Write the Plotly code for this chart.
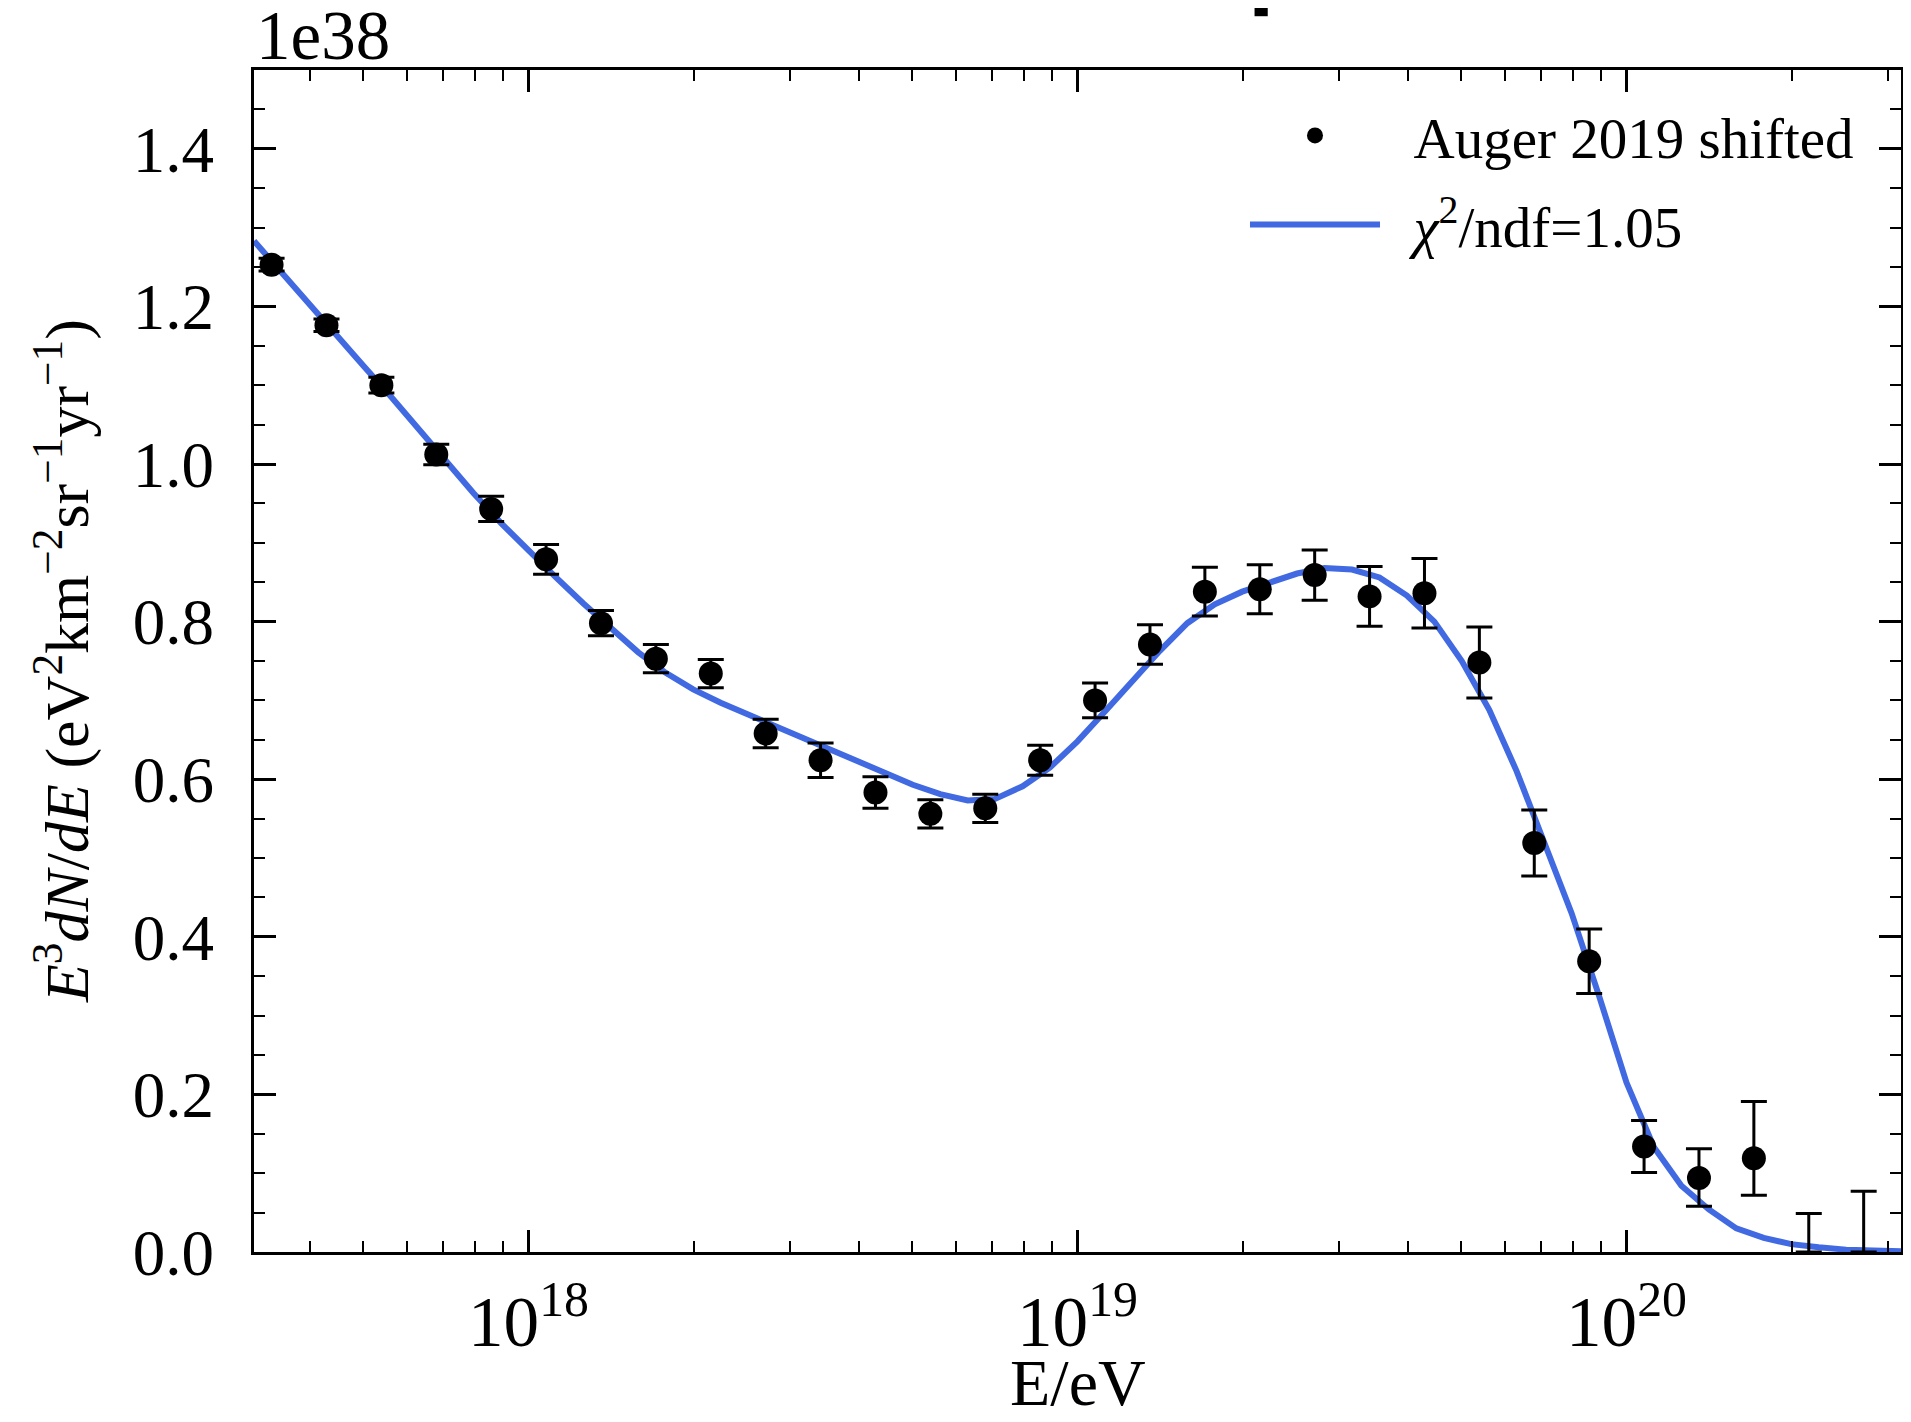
import numpy as np
import plotly.graph_objects as go

# Auger 2019 spectrum (shifted), E^3 dN/dE in units of 1e38
lg_e = [17.532, 17.632, 17.732, 17.832, 17.932, 18.032, 18.132, 18.232, 18.332, 18.432,
        18.532, 18.632, 18.732, 18.832, 18.932, 19.032, 19.132, 19.232, 19.332, 19.432,
        19.532, 19.632, 19.732, 19.832, 19.932, 20.032, 20.132, 20.232]
flux = [1.253, 1.176, 1.100, 1.012, 0.943, 0.879, 0.798, 0.753, 0.734, 0.658,
        0.624, 0.583, 0.556, 0.563, 0.624, 0.700, 0.771, 0.838, 0.841, 0.859,
        0.832, 0.836, 0.748, 0.519, 0.369, 0.134, 0.094, 0.119]
err_up = [0.008, 0.008, 0.010, 0.013, 0.016, 0.019, 0.016, 0.018, 0.018, 0.018,
          0.022, 0.020, 0.018, 0.018, 0.019, 0.022, 0.025, 0.031, 0.031, 0.032,
          0.038, 0.044, 0.045, 0.042, 0.041, 0.033, 0.037, 0.072]
err_dn = [0.008, 0.008, 0.010, 0.013, 0.016, 0.019, 0.016, 0.018, 0.018, 0.018,
          0.022, 0.020, 0.018, 0.018, 0.019, 0.022, 0.025, 0.031, 0.031, 0.032,
          0.038, 0.044, 0.045, 0.042, 0.041, 0.033, 0.036, 0.047]

# upper limits (no point drawn)
lg_ul = [20.332, 20.432]
ul = [0.049, 0.077]

# fitted model
lg_fit = [17.50, 17.55, 17.60, 17.65, 17.70, 17.75, 17.80, 17.85, 17.90, 17.95,
          18.00, 18.05, 18.10, 18.15, 18.20, 18.25, 18.30, 18.35, 18.40, 18.45,
          18.50, 18.55, 18.60, 18.65, 18.70, 18.75, 18.80, 18.85, 18.90, 18.95,
          19.00, 19.05, 19.10, 19.15, 19.20, 19.25, 19.30, 19.35, 19.40, 19.45,
          19.50, 19.55, 19.60, 19.65, 19.70, 19.75, 19.80, 19.85, 19.90, 19.95,
          20.00, 20.05, 20.10, 20.15, 20.20, 20.25, 20.30, 20.35, 20.40, 20.45, 20.50]
fit = [1.283, 1.243, 1.202, 1.163, 1.124, 1.085, 1.044, 1.003, 0.963, 0.925,
       0.890, 0.856, 0.823, 0.791, 0.761, 0.735, 0.714, 0.697, 0.682, 0.667,
       0.652, 0.637, 0.622, 0.607, 0.593, 0.581, 0.573, 0.575, 0.591, 0.615,
       0.648, 0.686, 0.725, 0.763, 0.798, 0.822, 0.838, 0.850, 0.861, 0.868,
       0.866, 0.856, 0.833, 0.800, 0.750, 0.688, 0.610, 0.520, 0.430, 0.325,
       0.215, 0.133, 0.084, 0.054, 0.030, 0.018, 0.010, 0.006, 0.003, 0.002, 0.001]

FONT = "Liberation Serif"
NB = "\u00a0\u00a0"

fig = go.Figure()

fig.add_trace(go.Scatter(
    x=[10 ** v for v in lg_fit], y=fit, mode="lines",
    line=dict(color="#4169E1", width=6),
    name=NB + "<i>χ</i><sup>2</sup>/ndf=1.05", legendgroup="fit", legendrank=2,
))

fig.add_trace(go.Scatter(
    x=[10 ** v for v in lg_e], y=flux, mode="markers",
    marker=dict(color="black", size=24),
    error_y=dict(type="data", symmetric=False, array=err_up, arrayminus=err_dn,
                 color="black", thickness=3, width=13),
    name=NB + "Auger 2019 shifted", legendgroup="data", legendrank=1,
))

fig.add_trace(go.Scatter(
    x=[10 ** v for v in lg_ul], y=[0, 0], mode="markers",
    marker=dict(color="black", size=1, opacity=0),
    error_y=dict(type="data", symmetric=False, array=ul, arrayminus=[0, 0],
                 color="black", thickness=3, width=13),
    showlegend=False,
))

axis_common = dict(
    showline=True, linecolor="black", linewidth=2.8, mirror="allticks",
    ticks="inside", ticklen=22, tickwidth=2.6, tickcolor="black",
    showgrid=False, zeroline=False, automargin=False,
)

fig.update_xaxes(
    type="log", range=[17.5, 20.5], dtick=1, exponentformat="power",
    minor=dict(ticks="inside", ticklen=11, tickwidth=2.4, tickcolor="black", showgrid=False),
    tickfont=dict(family=FONT, size=57, color="black"),
    ticklabelstandoff=8,
    **axis_common,
)
fig.update_yaxes(
    range=[0, 1.5], dtick=0.2, tickformat=".1f",
    minor=dict(ticks="inside", ticklen=11, tickwidth=2.4, tickcolor="black", dtick=0.05, showgrid=False),
    tickfont=dict(family=FONT, size=65, color="black"),
    ticklabelstandoff=24,
    **axis_common,
)

# axis titles and offset text
fig.add_annotation(
    text="E/eV", xref="paper", yref="paper", x=0.5, y=-0.1108, xanchor="center", yanchor="middle",
    showarrow=False, font=dict(family=FONT, size=66, color="black"),
)
fig.add_annotation(
    text="<i>E</i><sup>3</sup><i>dN</i>/<i>dE</i> (eV<sup>2</sup>km<sup>−2</sup>sr<sup>−1</sup>yr<sup>−1</sup>)",
    xref="paper", yref="paper", x=-0.1165, y=0.5, xanchor="center", yanchor="middle", textangle=-90,
    showarrow=False, font=dict(family=FONT, size=62, color="black"),
)
fig.add_annotation(
    text="1e38", xref="paper", yref="paper", x=0, y=1, xanchor="left", yanchor="bottom",
    showarrow=False, font=dict(family=FONT, size=69, color="black"), yshift=-6,
)
# piece of a cropped title at the top edge
fig.add_shape(type="rect", xref="paper", yref="paper", x0=0.6075, x1=0.6155, y0=1.0455, y1=1.06,
              fillcolor="black", line=dict(width=0))

fig.update_layout(
    width=1895, height=1406,
    margin=dict(l=245.5, r=2, t=62, b=162, autoexpand=False),
    paper_bgcolor="white", plot_bgcolor="white",
    font=dict(family=FONT, color="black"),
    legend=dict(x=0.6017, y=0.9815, xanchor="left", yanchor="top",
                font=dict(family=FONT, size=57, color="black"),
                bgcolor="rgba(0,0,0,0)", itemwidth=130,
                traceorder="grouped", tracegroupgap=12),
)

fig.write_html("out.html")
